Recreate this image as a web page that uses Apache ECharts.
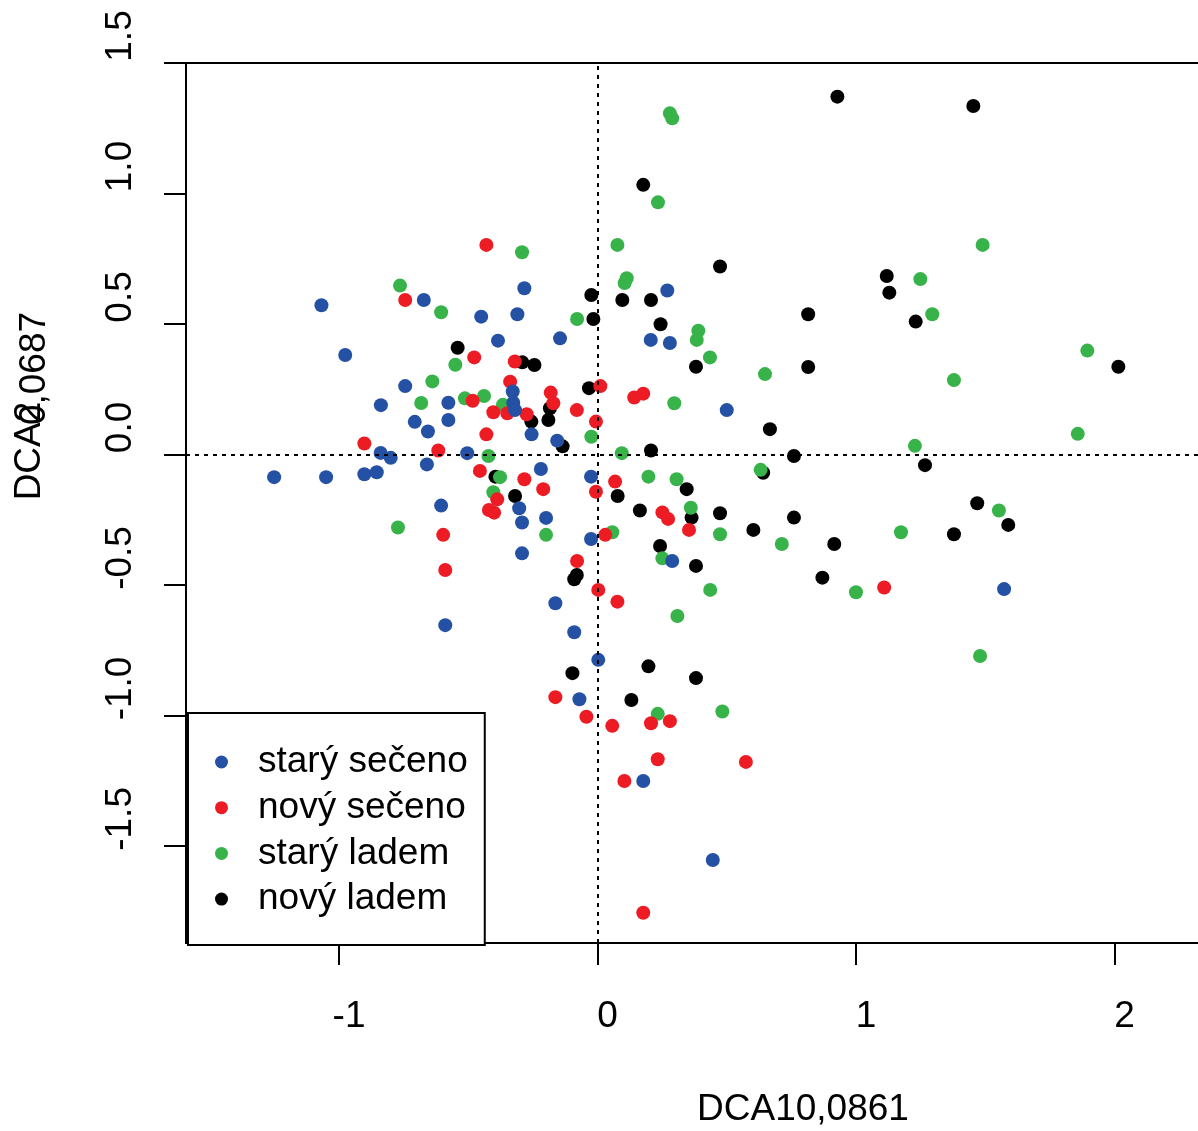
<!DOCTYPE html>
<html>
<head>
<meta charset="utf-8">
<script src="https://cdn.jsdelivr.net/npm/echarts@6/dist/echarts.min.js"></script>
<style>
  html, body { margin: 0; padding: 0; background: #ffffff; }
  #chart { width: 1198px; height: 1131px; }
</style>
</head>
<body>
<div id="chart"></div>
<script>
// DCA ordination scores (axis 1, axis 2) per group
const groupNames = ['starý sečeno', 'nový sečeno', 'starý ladem', 'nový ladem'];
const groupColors = ['#2451a4', '#ed1c24', '#37b34a', '#000000'];

const starySeceno = [
  [-1.068, 0.572], [-0.976, 0.381], [-0.672, 0.592], [-0.744, 0.262], [-0.838, 0.189],
  [-0.707, 0.125], [-0.656, 0.088], [-0.839, 0.006], [-0.800, -0.013], [-0.660, -0.038],
  [-0.902, -0.076], [-0.854, -0.068], [-1.251, -0.087], [-1.050, -0.087], [-0.577, 0.198],
  [-0.577, 0.132], [-0.283, 0.637], [-0.450, 0.528], [-0.310, 0.537], [-0.385, 0.436],
  [-0.145, 0.445], [-0.328, 0.241], [-0.326, 0.198], [-0.319, 0.170], [-0.255, 0.077],
  [-0.156, 0.053], [-0.504, 0.005], [-0.219, -0.056], [-0.025, -0.085], [-0.605, -0.196],
  [-0.303, -0.206], [-0.292, -0.261], [-0.199, -0.243], [-0.025, -0.324], [-0.292, -0.379],
  [-0.163, -0.570], [-0.589, -0.654], [-0.090, -0.681], [0.003, -0.787], [-0.070, -0.938],
  [0.177, -1.251], [0.446, -1.554], [0.270, 0.628], [0.206, 0.439], [0.280, 0.427],
  [0.500, 0.170], [0.289, -0.408], [1.573, -0.516]
];

const novySeceno = [
  [-0.744, 0.592], [-0.902, 0.042], [-0.430, 0.803], [-0.477, 0.372], [-0.320, 0.356],
  [-0.338, 0.279], [0.011, 0.262], [0.142, 0.218], [0.177, 0.233], [-0.483, 0.206],
  [-0.181, 0.237], [-0.171, 0.196], [-0.403, 0.162], [-0.349, 0.158], [-0.274, 0.154],
  [-0.080, 0.170], [-0.006, 0.126], [-0.430, 0.077], [-0.616, 0.015], [-0.455, -0.063],
  [-0.283, -0.095], [0.068, -0.104], [-0.210, -0.133], [-0.006, -0.143], [-0.388, -0.172],
  [-0.420, -0.213], [-0.400, -0.223], [0.251, -0.222], [0.273, -0.247], [-0.597, -0.308],
  [0.030, -0.308], [-0.079, -0.408], [-0.589, -0.443], [0.003, -0.519], [0.077, -0.564],
  [0.354, -0.289], [1.109, -0.510], [-0.163, -0.930], [-0.043, -1.005], [0.057, -1.040],
  [0.207, -1.030], [0.280, -1.022], [0.233, -1.168], [0.574, -1.178], [0.104, -1.251],
  [0.177, -1.756]
];

const staryLadem = [
  [-0.764, 0.647], [-0.639, 0.280], [-0.682, 0.197], [-0.772, -0.280], [-0.292, 0.775],
  [0.077, 0.803], [0.113, 0.675], [0.105, 0.657], [-0.605, 0.545], [-0.079, 0.519],
  [-0.550, 0.344], [-0.513, 0.215], [-0.439, 0.224], [-0.366, 0.190], [-0.024, 0.068],
  [-0.422, -0.006], [0.094, 0.005], [-0.377, -0.087], [0.197, -0.085], [-0.403, -0.145],
  [-0.199, -0.308], [0.057, -0.298], [0.251, -0.398], [0.280, 1.307], [0.289, 1.288],
  [0.234, 0.966], [0.390, 0.474], [0.384, 0.439], [0.435, 0.372], [0.648, 0.308],
  [1.490, 0.803], [1.249, 0.672], [1.295, 0.537], [1.895, 0.398], [1.379, 0.285],
  [0.297, 0.196], [1.228, 0.033], [0.306, -0.095], [0.631, -0.059], [0.361, -0.204],
  [0.474, -0.306], [0.713, -0.343], [1.174, -0.298], [1.000, -0.528], [0.436, -0.519],
  [0.309, -0.619], [1.858, 0.079], [1.553, -0.215], [1.480, -0.772], [0.233, -0.994],
  [0.483, -0.985]
];

const novyLadem = [
  [-0.024, 0.611], [0.096, 0.592], [0.207, 0.592], [-0.016, 0.519], [0.244, 0.499],
  [-0.541, 0.409], [-0.291, 0.353], [-0.244, 0.343], [-0.033, 0.254], [-0.184, 0.177],
  [-0.256, 0.126], [-0.190, 0.132], [-0.135, 0.031], [0.207, 0.015], [-0.395, -0.085],
  [0.078, -0.159], [-0.319, -0.159], [0.164, -0.215], [0.242, -0.351], [-0.080, -0.462],
  [-0.090, -0.478], [0.197, -0.812], [-0.097, -0.838], [0.381, -0.857], [0.131, -0.941],
  [0.928, 1.371], [0.177, 1.033], [0.474, 0.720], [1.119, 0.684], [1.129, 0.620],
  [0.815, 0.537], [0.381, 0.336], [0.815, 0.335], [1.454, 1.335], [1.231, 0.509],
  [2.015, 0.336], [0.667, 0.097], [0.760, -0.006], [1.267, -0.041], [0.641, -0.070],
  [0.345, -0.133], [0.364, -0.242], [0.474, -0.225], [0.603, -0.289], [0.760, -0.242],
  [0.916, -0.343], [0.381, -0.427], [0.870, -0.472], [1.469, -0.187], [1.589, -0.270],
  [1.379, -0.306]
];

const xTicks = [-1, 0, 1, 2];
const yTicks = [-1.5, -1.0, -0.5, 0.0, 0.5, 1.0, 1.5];
const xTitle = 'DCA10,0861';
const yTitle = 'DCA2';
const yTitleExtra = '0,0687';

const FONT = '"Liberation Sans", Arial, Helvetica, sans-serif';
const chart = echarts.init(document.getElementById('chart'), null, { renderer: 'canvas' });

function pointSeries(name, data, color, extra) {
  return Object.assign({
    name: name,
    type: 'scatter',
    data: data,
    symbol: 'circle',
    symbolSize: 14,
    itemStyle: { color: color, opacity: 1 },
    emphasis: { disabled: true },
    silent: true
  }, extra || {});
}

const option = {
  animation: false,
  backgroundColor: '#ffffff',
  textStyle: { fontFamily: FONT },
  // plot region runs past the right edge of the canvas
  grid: {
    left: 186, top: 63, width: 1234, height: 880,
    outerBoundsMode: 'none',
    containLabel: false,
    show: true, borderColor: '#000', borderWidth: 2, backgroundColor: 'transparent'
  },
  xAxis: {
    type: 'value',
    min: -1.592, max: 3.182,
    splitLine: { show: false },
    axisLine: { show: true, onZero: false, lineStyle: { color: '#000', width: 2 } },
    axisTick: { show: true, customValues: xTicks, length: 22, lineStyle: { color: '#000', width: 2 } },
    axisLabel: {
      customValues: xTicks, margin: 55, fontSize: 37, color: '#000', fontFamily: FONT,
      padding: [0, 0, 0, 20],
      formatter: v => String(v)
    },
    name: xTitle, nameLocation: 'middle', nameGap: 148,
    nameTextStyle: { fontSize: 37, color: '#000', fontFamily: FONT }
  },
  yAxis: {
    type: 'value',
    min: -1.872, max: 1.5,
    splitLine: { show: false },
    axisLine: { show: true, onZero: false, lineStyle: { color: '#000', width: 2 } },
    axisTick: { show: true, customValues: yTicks, length: 22, lineStyle: { color: '#000', width: 2 } },
    axisLabel: {
      customValues: yTicks, rotate: 90, margin: 47, fontSize: 37, color: '#000', fontFamily: FONT,
      padding: [0, 0, 0, 54],
      formatter: v => Number(v).toFixed(1)
    },
    name: yTitle, nameLocation: 'middle', nameRotate: 90, nameGap: 138,
    nameTextStyle: { fontSize: 37, color: '#000', fontFamily: FONT, padding: [0, 0, 0, 104] }
  },
  legend: {
    orient: 'vertical', left: 188, top: 713,
    data: groupNames,
    icon: 'circle', itemWidth: 13, itemHeight: 13, itemGap: 5.7,
    padding: [29, 17, 26, 27],
    borderColor: '#000', borderWidth: 2, backgroundColor: '#ffffff',
    selectedMode: false,
    textStyle: { fontSize: 37, lineHeight: 40, color: '#000', fontFamily: FONT, padding: [0, 0, 0, 25] }
  },
  graphic: [{
    type: 'text',
    x: 35, y: 368.5,
    rotation: Math.PI / 2,
    silent: true,
    style: {
      text: yTitleExtra,
      font: '37px ' + FONT,
      fill: '#000',
      textAlign: 'center',
      textVerticalAlign: 'middle'
    }
  }],
  series: [
    pointSeries(groupNames[3], novyLadem, groupColors[3], {
      markLine: {
        silent: true, symbol: 'none', animation: false,
        label: { show: false },
        emphasis: { disabled: true },
        lineStyle: { color: '#000', type: [4, 5], width: 2 },
        data: [{ xAxis: 0 }, { yAxis: 0 }]
      }
    }),
    pointSeries(groupNames[2], staryLadem, groupColors[2]),
    pointSeries(groupNames[1], novySeceno, groupColors[1]),
    pointSeries(groupNames[0], starySeceno, groupColors[0])
  ]
};

chart.setOption(option);
</script>
</body>
</html>
